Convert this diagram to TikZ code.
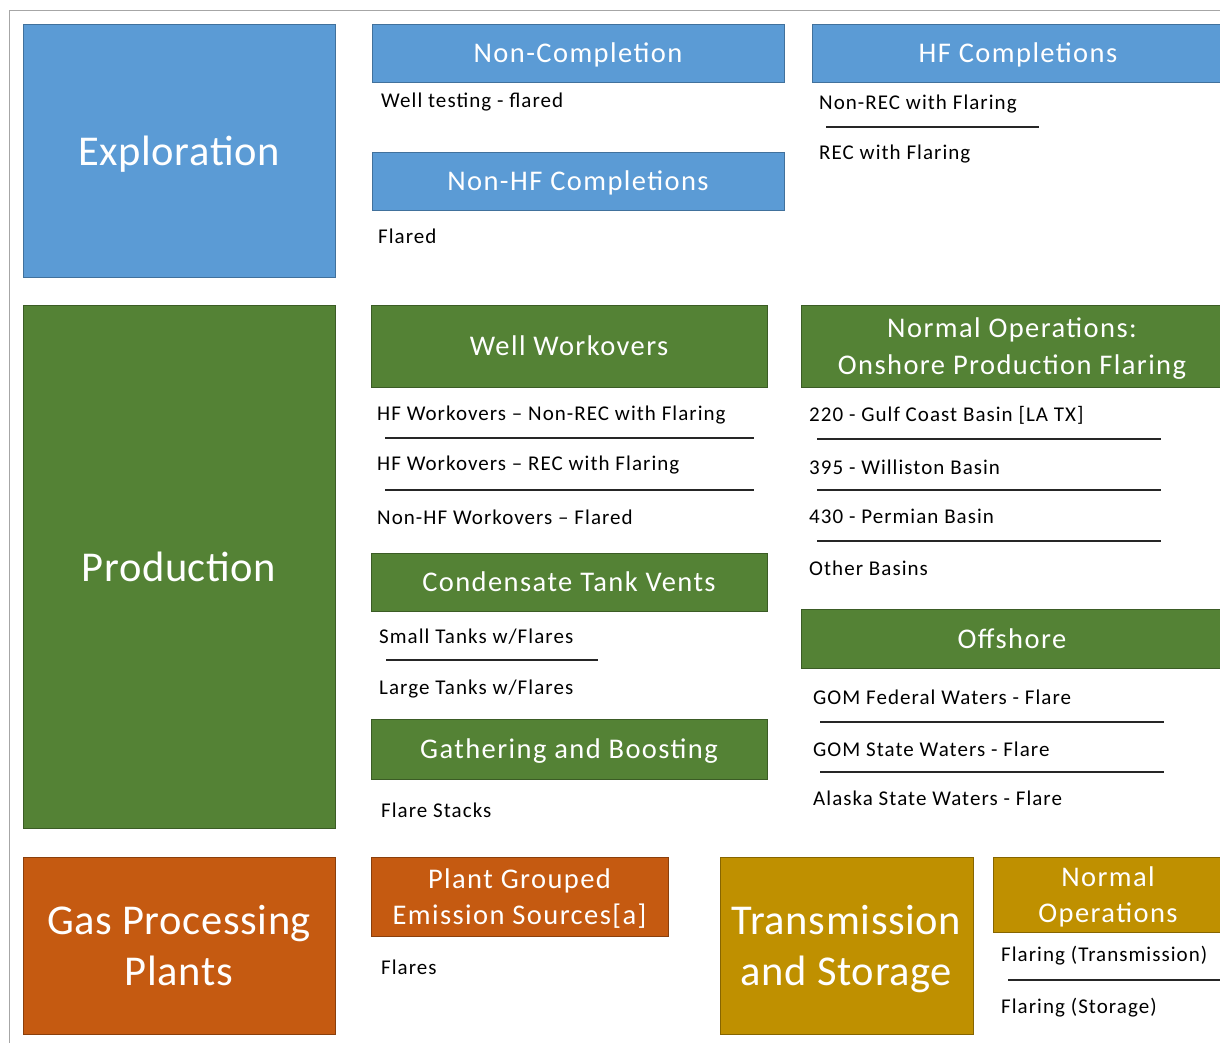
\documentclass[tikz,border=0pt]{standalone}
\usepackage{fontspec}
\setmainfont{Carlito}
\usepackage{xcolor}
\usepackage{tikz}
\usetikzlibrary{positioning}

\definecolor{explblue}{HTML}{5B9BD5}
\definecolor{explline}{HTML}{41719C}
\definecolor{prodgreen}{HTML}{548235}
\definecolor{prodline}{HTML}{3B5C25}
\definecolor{gasorange}{HTML}{C55A11}
\definecolor{gasline}{HTML}{8A3F0C}
\definecolor{tsgold}{HTML}{BF9000}
\definecolor{tsline}{HTML}{866500}

\tikzset{
  blk/.style={draw, line width=0.9pt, text=white, align=center, inner sep=0pt, text depth=0pt},
  bigblk/.style={blk, font=\fontsize{42.5}{51}\selectfont\addfontfeature{LetterSpace=1.5}},
  hdr/.style={blk, font=\fontsize{28.5}{36.5}\selectfont\addfontfeature{LetterSpace=5}},
  item/.style={anchor=west, inner sep=0pt, yshift=-2pt, font=\fontsize{21}{24}\selectfont\addfontfeature{LetterSpace=5}},
  sepline/.style={line width=1.1pt, black!85}
}

\begin{document}
\begin{tikzpicture}[x=1pt, y=-1pt]
\useasboundingbox (0,0) rectangle (1220,1042);
\draw [gray!70, line width=1pt] (9,1050) -- (9,10) -- (1230,10);

\node (expl) at (179,150.5) [bigblk, fill=explblue, draw=explline, minimum width=312, minimum height=253] {Exploration};
\node (noncomp) at (578,53) [hdr, fill=explblue, draw=explline, minimum width=412, minimum height=58] {Non-Completion};
\node (welltest) at (381,100) [item] {Well testing - flared};
\node (nonhf) at (578,181) [hdr, fill=explblue, draw=explline, minimum width=412, minimum height=58] {Non-HF Completions};
\node (flared) at (378,234) [item] {Flared};
\node (hfcomp) at (1018,53) [hdr, fill=explblue, draw=explline, minimum width=412, minimum height=58] {HF Completions};
\node (hfnonrec) at (819,102) [item] {Non-REC with Flaring};
\node (hfrec) at (819,152) [item] {REC with Flaring};
\draw [sepline] (826,127) -- (1039,127);

\node (prod) at (179,566.5) [bigblk, fill=prodgreen, draw=prodline, minimum width=312, minimum height=523] {Production};
\node (workover) at (569,346) [hdr, fill=prodgreen, draw=prodline, minimum width=396, minimum height=82] {Well Workovers};
\node (wonrec) at (377,413) [item] {HF Workovers -- Non-REC with Flaring};
\node (worec) at (377,463) [item] {HF Workovers -- REC with Flaring};
\node (wononhf) at (377,515) [item] {Non-HF Workovers -- Flared};
\draw [sepline] (385,438) -- (754,438);
\draw [sepline] (385,490) -- (754,490);
\node (tanks) at (569,582) [hdr, fill=prodgreen, draw=prodline, minimum width=396, minimum height=58] {Condensate Tank Vents};
\node (smalltk) at (379,635) [item] {Small Tanks w/Flares};
\node (largetk) at (379,687) [item] {Large Tanks w/Flares};
\draw [sepline] (386,660) -- (598,660);
\node (gather) at (569,749) [hdr, fill=prodgreen, draw=prodline, minimum width=396, minimum height=60] {Gathering and Boosting};
\node (stacks) at (381,808) [item] {Flare Stacks};

\node (onshore) at (1012,346) [hdr, fill=prodgreen, draw=prodline, minimum width=422, minimum height=82] {Normal Operations:\\Onshore Production Flaring};
\node (gulf) at (809,413) [item] {220 - Gulf Coast Basin [LA TX]};
\node (willis) at (809,465) [item] {395 - Williston Basin};
\node (permian) at (809,514) [item] {430 - Permian Basin};
\node (other) at (809,566) [item] {Other Basins};
\draw [sepline] (817,439) -- (1161,439);
\draw [sepline] (817,490) -- (1161,490);
\draw [sepline] (817,541) -- (1161,541);
\node (offshore) at (1012,638.5) [hdr, fill=prodgreen, draw=prodline, minimum width=422, minimum height=59] {Offshore};
\node (gomfed) at (813,695) [item] {GOM Federal Waters - Flare};
\node (gomstate) at (813,747) [item] {GOM State Waters - Flare};
\node (alaska) at (813,796) [item] {Alaska State Waters - Flare};
\draw [sepline] (820,722) -- (1164,722);
\draw [sepline] (820,772) -- (1164,772);

\node (gasproc) at (179,945.5) [bigblk, fill=gasorange, draw=gasline, minimum width=312, minimum height=177] {Gas Processing\\Plants};
\node (plantsrc) at (519.5,896.5) [hdr, fill=gasorange, draw=gasline, minimum width=297, minimum height=79] {Plant Grouped\\Emission Sources[a]};
\node (flares) at (381,965) [item] {Flares};

\node (transst) at (846.5,945.5) [bigblk, fill=tsgold, draw=tsline, minimum width=253, minimum height=177] {Transmission\\and Storage};
\node (normops) at (1108,894.5) [hdr, fill=tsgold, draw=tsline, minimum width=230, minimum height=75] {Normal\\Operations};
\node (flaretr) at (1001,954) [item] {Flaring (Transmission)};
\node (flarest) at (1001,1006) [item] {Flaring (Storage)};
\draw [sepline] (1008,980) -- (1230,980);
\end{tikzpicture}
\end{document}
